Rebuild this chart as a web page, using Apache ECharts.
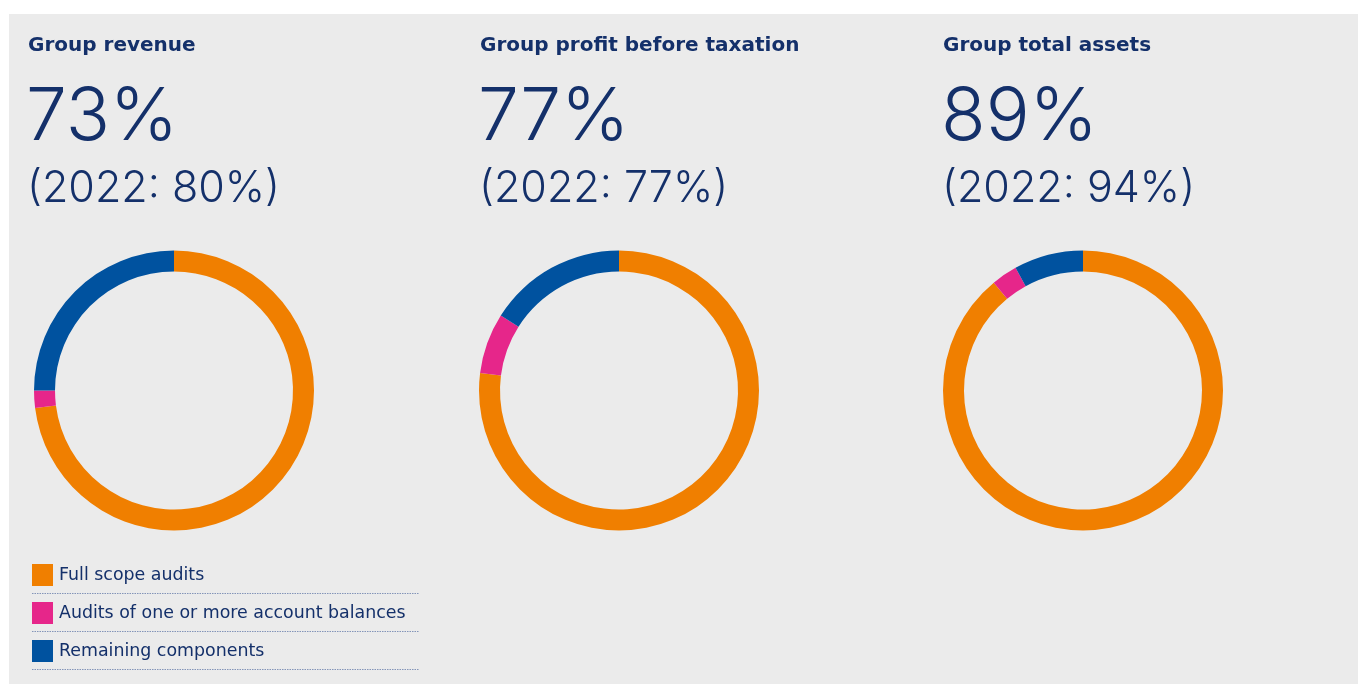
<!DOCTYPE html>
<html>
<head>
<meta charset="utf-8">
<title>Audit coverage</title>
<script src="https://cdn.jsdelivr.net/npm/echarts@6/dist/echarts.min.js"></script>
<style>
  html, body { margin: 0; padding: 0; background: #ffffff; }
  #chart { width: 1358px; height: 684px; }
</style>
</head>
<body>
<div id="chart"></div>
<script>
// Coverage categories (legend order = slice order)
const categories = ['Full scope audits', 'Audits of one or more account balances', 'Remaining components'];
const categoryColors = ['#f07f00', '#e6268a', '#00529f'];

// Panel headings and headline figures
const metrics = ['Group revenue', 'Group profit before taxation', 'Group total assets'];
const currentLabels = ['73%', '77%', '89%'];
const priorLabels = ['(2022: 80%)', '(2022: 77%)', '(2022: 94%)'];

// Share of each measure by coverage type (%)
const revenueShares = [73, 2, 25];
const profitShares = [77, 7, 16];
const assetShares = [89, 3, 8];

const sharesByMetric = [revenueShares, profitShares, assetShares];

const NAVY = '#14306a';
const FONT = 'Inter, "Noto Sans", sans-serif';
const WIDE_FONT = '"DejaVu Sans", Inter, sans-serif';
const columnX = [28, 480, 943];
const donutCenterX = [174, 619, 1083];
const donutCenterY = 390.5;

function draw() {
  const chart = echarts.init(document.getElementById('chart'), null, { renderer: 'canvas' });

  const titles = [];
  metrics.forEach((m, i) => {
    titles.push({
      text: m, left: columnX[i], top: 36, padding: 0,
      textStyle: { color: NAVY, fontFamily: WIDE_FONT, fontWeight: 'bold', fontSize: 20 }
    });
    titles.push({
      text: currentLabels[i], left: columnX[i] - 2, top: 82, padding: 0,
      textStyle: { color: NAVY, fontFamily: FONT, fontWeight: 300, fontSize: 73 }
    });
    titles.push({
      text: priorLabels[i], left: columnX[i] - 1, top: 168, padding: 0,
      textStyle: { color: NAVY, fontFamily: FONT, fontWeight: 300, fontSize: 43 }
    });
  });

  const series = sharesByMetric.map((shares, i) => ({
    type: 'pie',
    center: [donutCenterX[i], donutCenterY],
    radius: [119, 140],
    startAngle: 90,
    clockwise: true,
    silent: true,
    label: { show: false },
    labelLine: { show: false },
    emphasis: { disabled: true },
    data: categories.map((c, k) => ({ name: c, value: shares[k], itemStyle: { color: categoryColors[k] } }))
  }));

  // Dotted separators under each legend row
  const separatorYs = [593.5, 631.5, 669.5];
  const graphics = [
    { type: 'rect', z: -10, silent: true, shape: { x: 9, y: 14, width: 1349, height: 670 }, style: { fill: '#ebebeb' } }
  ].concat(separatorYs.map(y => ({
    type: 'line', silent: true,
    shape: { x1: 32, y1: y, x2: 419, y2: y },
    style: { stroke: '#8394b8', lineWidth: 1, lineDash: [1.5, 1] }
  })));

  chart.setOption({
    animation: false,
    backgroundColor: '#ffffff',
    title: titles,
    legend: {
      orient: 'vertical',
      left: 32, top: 564, padding: 0,
      itemWidth: 21, itemHeight: 22, itemGap: 16,
      icon: 'rect',
      selectedMode: false,
      data: categories,
      textStyle: { color: NAVY, fontFamily: WIDE_FONT, fontSize: 17.4, padding: [0, 0, 0, 1] }
    },
    graphic: graphics,
    series: series
  });
}

// Make sure the local faces are ready before the canvas paints text
Promise.all([
  document.fonts.load('300 73px Inter'),
  document.fonts.load('300 43px Inter'),
  document.fonts.load('bold 20px "DejaVu Sans"'),
  document.fonts.load('17px "DejaVu Sans"')
]).then(draw, draw);
</script>
</body>
</html>
